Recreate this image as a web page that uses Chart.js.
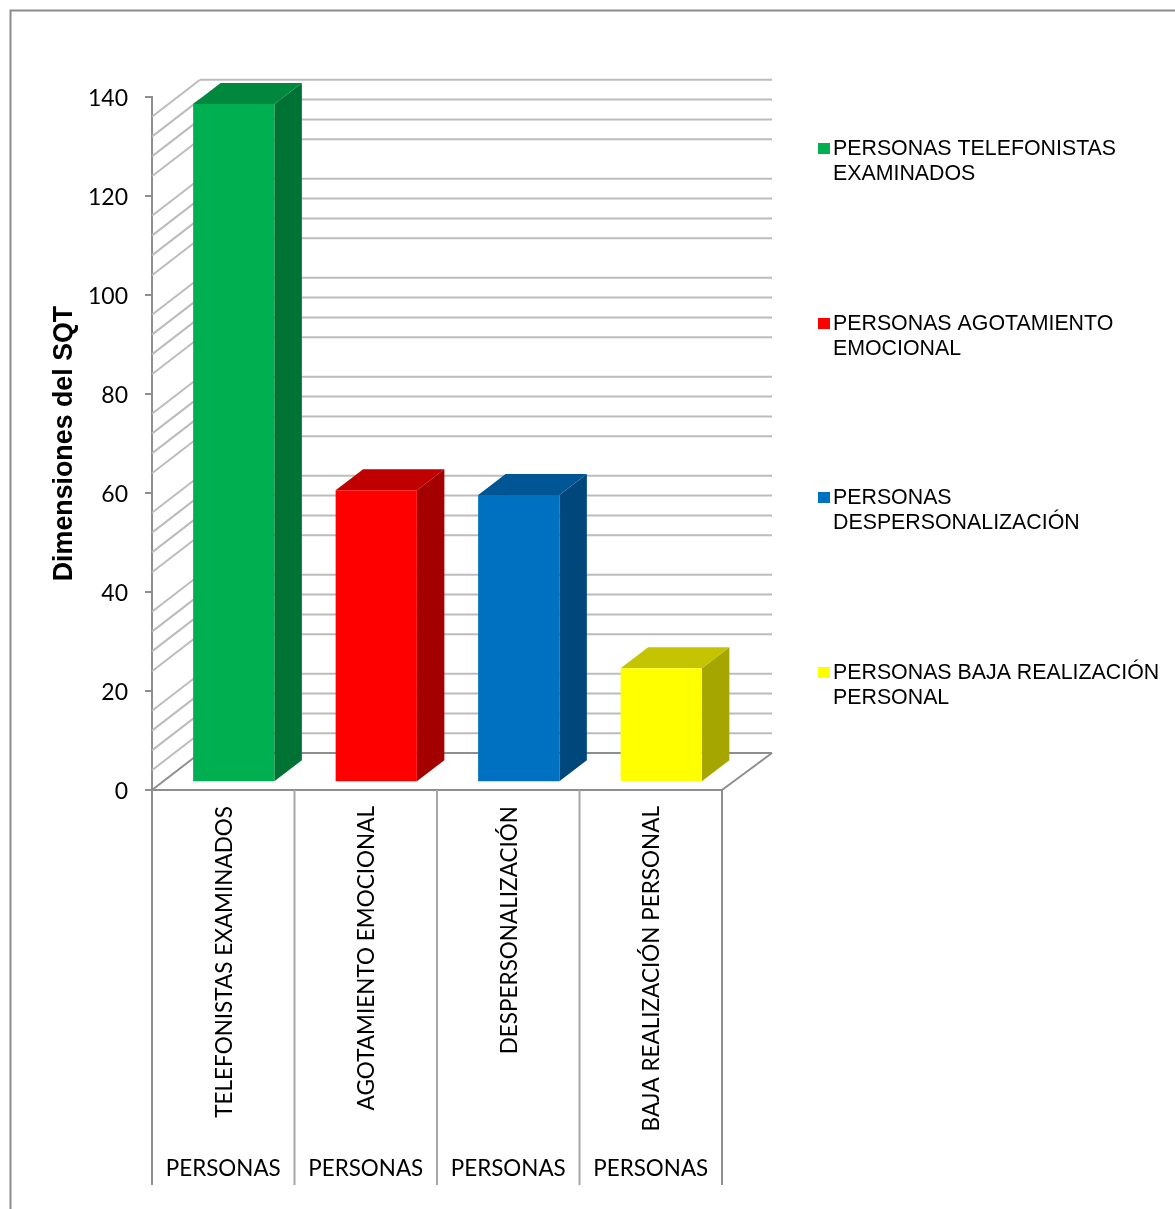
<!DOCTYPE html>
<html>
<head>
<meta charset="utf-8">
<style>
  html, body { margin: 0; background: #fff; }
  canvas { display: block; }
</style>
</head>
<body>
<canvas id="sqt-chart" width="1175" height="1209"></canvas>
<script src="https://cdn.jsdelivr.net/npm/chart.js@4"></script>
<script>
const categories = ['TELEFONISTAS EXAMINADOS', 'AGOTAMIENTO EMOCIONAL', 'DESPERSONALIZACIÓN', 'BAJA REALIZACIÓN PERSONAL'];
const groupLabels = ['PERSONAS', 'PERSONAS', 'PERSONAS', 'PERSONAS'];
const personas = [137, 59, 58, 23];
const legendLines = [
  ['PERSONAS TELEFONISTAS', 'EXAMINADOS'],
  ['PERSONAS AGOTAMIENTO', 'EMOCIONAL'],
  ['PERSONAS', 'DESPERSONALIZACIÓN'],
  ['PERSONAS BAJA REALIZACIÓN', 'PERSONAL']
];
const legendRows = [149, 324, 498, 673];
const wallTicks = [136, 132, 128, 124, 116, 112, 108, 104, 96, 92, 88, 84, 76, 72, 68, 64, 56, 52, 48, 44, 36, 32, 28, 24, 16, 12, 8, 4];

const frontColors = ['#00B050', '#FF0000', '#0070C0', '#FFFF00'];
const topColors = ['#00883E', '#C00000', '#005694', '#C4C400'];
const sideColors = ['#007234', '#A40000', '#00487C', '#A6A600'];

const LABEL_FONT = 'Lato, Carlito, sans-serif';
const ARIAL = '"Liberation Sans", Arial, sans-serif';
const AXIS_GREY = '#8E8E8E';
const GRID_GREY = '#BCBCBC';

// depth of the box behind the plot, and of each bar
const WALL_DX = 48, WALL_DY = 37;
const GAP_DX = 10.5, GAP_DY = 7.8;
const BAR_DX = 27.5, BAR_DY = 21;

function line(ctx, x1, y1, x2, y2, color, width) {
  ctx.strokeStyle = color;
  ctx.lineWidth = width || 2;
  ctx.beginPath();
  ctx.moveTo(x1, y1);
  ctx.lineTo(x2, y2);
  ctx.stroke();
}

function poly(ctx, pts, color) {
  ctx.fillStyle = color;
  ctx.beginPath();
  pts.forEach((p, i) => (i ? ctx.lineTo(p[0], p[1]) : ctx.moveTo(p[0], p[1])));
  ctx.closePath();
  ctx.fill();
}

// walls and floor of the 3D box, then the extruded bars on top of them
const box3d = {
  id: 'box3d',
  beforeDatasetsDraw(chart) {
    const { ctx, chartArea: a, scales: { y } } = chart;
    const backL = a.left + WALL_DX, backR = a.right + 50;

    ctx.save();
    ctx.lineCap = 'butt';
    wallTicks.forEach(v => {
      const py = y.getPixelForValue(v);
      line(ctx, a.left, py, backL, py - WALL_DY, GRID_GREY);
      line(ctx, backL, py - WALL_DY, backR, py - WALL_DY, GRID_GREY);
    });
    line(ctx, a.left, a.bottom, backL, a.bottom - WALL_DY, AXIS_GREY);
    line(ctx, backL - 1, a.bottom - WALL_DY, backR, a.bottom - WALL_DY, AXIS_GREY);
    line(ctx, a.right, a.bottom, backR, a.bottom - WALL_DY, AXIS_GREY);
    ctx.restore();

    // side and top faces, the front face comes from the bar element itself
    ctx.save();
    chart.getDatasetMeta(0).data.forEach((bar, i) => {
      const l = bar.x - bar.width / 2 + GAP_DX;
      const r = bar.x + bar.width / 2 + GAP_DX;
      const t = bar.y - GAP_DY;
      const b = bar.base - GAP_DY;
      poly(ctx, [[r, t], [r + BAR_DX, t - BAR_DY], [r + BAR_DX, b - BAR_DY], [r, b]], sideColors[i]);
      poly(ctx, [[l, t], [l + BAR_DX, t - BAR_DY], [r + BAR_DX, t - BAR_DY], [r, t]], topColors[i]);
    });
    ctx.restore();

    ctx.save();
    ctx.translate(GAP_DX, -GAP_DY);
  },
  afterDatasetsDraw(chart) {
    chart.ctx.restore();
  },
  afterDraw(chart) {
    const { ctx, chartArea: a, scales: { x } } = chart;

    // frame runs off the right and bottom of the page
    ctx.save();
    ctx.strokeStyle = '#8C8C8C';
    ctx.lineWidth = 2;
    ctx.strokeRect(10.5, 10.5, 1300, 1300);

    // band separators and the second label row
    const band = (a.right - a.left) / categories.length;
    for (let i = 0; i <= categories.length; i++) {
      const px = a.left + band * i;
      line(ctx, px, a.bottom, px, 1185, i % 4 ? '#A6A6A6' : AXIS_GREY);
    }
    ctx.fillStyle = '#000';
    ctx.font = '22.4px ' + LABEL_FONT;
    ctx.textAlign = 'center';
    ctx.textBaseline = 'middle';
    groupLabels.forEach((label, i) => ctx.fillText(label, x.getPixelForValue(i), 1169));

    // legend
    ctx.font = '21.35px ' + ARIAL;
    ctx.textAlign = 'left';
    legendLines.forEach((lines, i) => {
      ctx.fillStyle = frontColors[i];
      ctx.fillRect(818, legendRows[i] - 6, 12, 11);
      ctx.fillStyle = '#000';
      lines.forEach((text, j) => ctx.fillText(text, 833, legendRows[i] + j * 25));
    });
    ctx.restore();
  }
};

new Chart(document.getElementById('sqt-chart'), {
  type: 'bar',
  data: {
    labels: categories,
    datasets: [
      {
        label: 'PERSONAS',
        data: personas,
        backgroundColor: frontColors,
        barPercentage: 0.57,
        categoryPercentage: 1,
        clip: false
      }
    ]
  },
  options: {
    responsive: false,
    animation: false,
    layout: { padding: { left: 0, top: 97, right: 453, bottom: 0 } },
    plugins: { legend: { display: false }, tooltip: { enabled: false } },
    scales: {
      x: {
        grid: { display: false },
        border: { color: AXIS_GREY, width: 2 },
        ticks: {
          autoSkip: false,
          minRotation: 90,
          maxRotation: 90,
          padding: 8,
          labelOffset: 1,
          color: '#000',
          font: { family: LABEL_FONT, size: 22.5 }
        },
        afterFit: scale => { scale.height = 419; }
      },
      y: {
        min: 0,
        max: 140,
        grid: { drawOnChartArea: false, tickLength: 7, color: AXIS_GREY, lineWidth: 2 },
        border: { color: AXIS_GREY, width: 2 },
        ticks: {
          stepSize: 20,
          padding: 17,
          labelOffset: 2,
          color: '#000',
          font: { family: LABEL_FONT, size: 23 }
        },
        title: {
          display: true,
          text: 'Dimensiones del SQT',
          color: '#000',
          font: { family: ARIAL, size: 26.8, weight: 'bold' },
          padding: { top: 49, bottom: 0 }
        },
        afterFit: scale => { scale.width = 152; }
      }
    }
  },
  plugins: [box3d]
});
</script>
</body>
</html>
